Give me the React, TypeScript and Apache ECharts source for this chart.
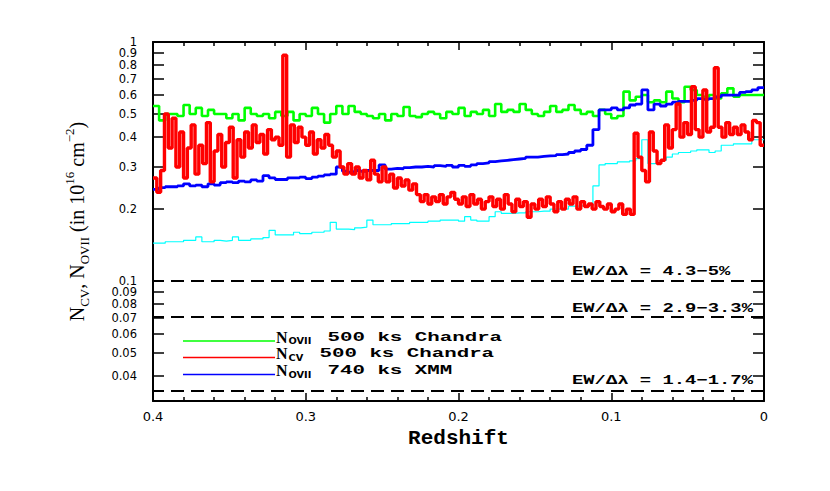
import React, { useEffect, useRef } from "react";
import * as echarts from "echarts";

// ---------- data ----------
const Z_START = 0.4;
const Z_END = 0;

// N_OVII, 500 ks Chandra (green), bins of 0.004 in redshift from z=0.4 down to 0
const greenBinWidth = 0.004;
const greenNOVII500 = [
  0.54, 0.47, 0.5, 0.5, 0.49, 0.545, 0.5, 0.53, 0.49, 0.52,
  0.5, 0.5, 0.48, 0.5, 0.47, 0.53, 0.5, 0.49, 0.5, 0.48,
  0.51, 0.49, 0.51, 0.47, 0.5, 0.49, 0.53, 0.5, 0.46, 0.5,
  0.54, 0.5, 0.54, 0.51, 0.5, 0.49, 0.48, 0.5, 0.47, 0.5,
  0.49, 0.535, 0.49, 0.485, 0.5, 0.51, 0.5, 0.48, 0.51, 0.5,
  0.53, 0.49, 0.51, 0.5, 0.52, 0.49, 0.55, 0.51, 0.52, 0.51,
  0.55, 0.52, 0.5, 0.49, 0.51, 0.54, 0.51, 0.52, 0.545, 0.52,
  0.5, 0.51, 0.49, 0.52, 0.5, 0.48, 0.49, 0.62, 0.57, 0.59,
  0.6, 0.56, 0.57, 0.56, 0.62, 0.58, 0.56, 0.65, 0.63, 0.6,
  0.59, 0.6, 0.58, 0.61, 0.64, 0.59, 0.6, 0.6, 0.6, 0.6,
];

// N_CV, 500 ks Chandra (red), bins of 0.0025
const redBinWidth = 0.0025;
const redNCV500 = [
  0.27, 0.235, 0.29, 0.5, 0.36, 0.48, 0.3, 0.42, 0.27, 0.36,
  0.45, 0.28, 0.37, 0.31, 0.46, 0.26, 0.35, 0.41, 0.3, 0.38,
  0.44, 0.27, 0.39, 0.33, 0.42, 0.36, 0.45, 0.38, 0.41, 0.34,
  0.43, 0.39, 0.4, 0.37, 0.88, 0.33, 0.45, 0.38, 0.44, 0.4,
  0.37, 0.42, 0.34, 0.39, 0.36, 0.41, 0.37, 0.33, 0.35, 0.3,
  0.28, 0.31, 0.28, 0.3, 0.27, 0.29, 0.265, 0.32, 0.28, 0.26,
  0.3, 0.26, 0.28, 0.245, 0.27, 0.25, 0.265, 0.24, 0.255, 0.23,
  0.215, 0.23, 0.21, 0.225, 0.215, 0.23, 0.21, 0.225, 0.235, 0.22,
  0.21, 0.225, 0.205, 0.23, 0.21, 0.22, 0.2, 0.215, 0.225, 0.205,
  0.22, 0.2, 0.23, 0.21, 0.195, 0.22, 0.205, 0.215, 0.185, 0.21,
  0.2, 0.22, 0.205, 0.225, 0.21, 0.195, 0.215, 0.2, 0.22, 0.21,
  0.225, 0.2, 0.215, 0.205, 0.21, 0.2, 0.215, 0.205, 0.2, 0.21,
  0.195, 0.2, 0.21, 0.19, 0.2, 0.19, 0.415, 0.33, 0.29, 0.26,
  0.42, 0.35, 0.31, 0.32, 0.45, 0.36, 0.43, 0.55, 0.4, 0.46,
  0.41, 0.65, 0.43, 0.4, 0.63, 0.42, 0.44, 0.78, 0.44, 0.4,
  0.46, 0.41, 0.44, 0.41, 0.45, 0.42, 0.39, 0.47, 0.46, 0.37,
];

// N_OVII, 740 ks XMM (blue), bins of 0.004
const blueBinWidth = 0.004;
const blueNOVII740 = [
  0.242, 0.246, 0.248, 0.248, 0.25, 0.255, 0.25, 0.252, 0.248, 0.255,
  0.252, 0.258, 0.26, 0.258, 0.262, 0.26, 0.265, 0.262, 0.276, 0.27,
  0.266, 0.266, 0.27, 0.27, 0.272, 0.268, 0.272, 0.275, 0.278, 0.28,
  0.3, 0.288, 0.285, 0.29, 0.288, 0.29, 0.29, 0.306, 0.294, 0.296,
  0.295, 0.298, 0.3, 0.3, 0.302, 0.3, 0.304, 0.302, 0.305, 0.3,
  0.305, 0.302, 0.306, 0.31, 0.312, 0.316, 0.318, 0.32, 0.322, 0.324,
  0.326, 0.33, 0.33, 0.332, 0.334, 0.335, 0.338, 0.34, 0.345, 0.35,
  0.355, 0.37, 0.43, 0.52, 0.52, 0.53, 0.52, 0.53, 0.545, 0.55,
  0.63, 0.52, 0.55, 0.54, 0.55, 0.56, 0.565, 0.565, 0.57, 0.58,
  0.575, 0.58, 0.59, 0.6, 0.6, 0.6, 0.615, 0.62, 0.63, 0.645,
];

// thin cyan curve (no legend entry), bins of 0.004
const cyanBinWidth = 0.004;
const cyanCurve = [
  0.144, 0.144, 0.146, 0.146, 0.146, 0.148, 0.148, 0.153, 0.146, 0.146,
  0.148, 0.147, 0.148, 0.153, 0.148, 0.148, 0.15, 0.15, 0.152, 0.163,
  0.156, 0.156, 0.156, 0.16, 0.158, 0.158, 0.16, 0.16, 0.162, 0.176,
  0.165, 0.165, 0.164, 0.167, 0.168, 0.18, 0.172, 0.172, 0.172, 0.174,
  0.174, 0.174, 0.176, 0.176, 0.176, 0.178, 0.178, 0.18, 0.18, 0.18,
  0.178, 0.186, 0.18, 0.178, 0.178, 0.186, 0.195, 0.192, 0.192, 0.193,
  0.193, 0.195, 0.195, 0.196, 0.196, 0.2, 0.2, 0.2, 0.206, 0.206,
  0.207, 0.207, 0.25, 0.306, 0.31, 0.31, 0.315, 0.315, 0.318, 0.325,
  0.39, 0.31, 0.31, 0.32, 0.33, 0.34, 0.345, 0.345, 0.35, 0.354,
  0.354, 0.345, 0.35, 0.37, 0.37, 0.375, 0.375, 0.375, 0.39, 0.39,
];

// dashed detection thresholds
const thresholdValues = [0.1, 0.07, 0.035];
const thresholdLabels = ["EW/Δλ = 4.3−5%", "EW/Δλ = 2.9−3.3%", "EW/Δλ = 1.4−1.7%"];

// legend entries
const legendColors = ["#00ff00", "#ff0000", "#0000ff"];
const legendMain = ["N", "N", "N"];
const legendSub = ["OVII", "CV", "OVII"];
const legendText = ["500 ks Chandra", "500 ks Chandra", "740 ks XMM"];

// axis ticks (labels split into two interleaved sets so none are auto-hidden)
const yTickValues = [0.04, 0.05, 0.06, 0.07, 0.08, 0.09, 0.1, 0.2, 0.3, 0.4, 0.5, 0.6, 0.7, 0.8, 0.9, 1];
const yLabelsA = [0.04, 0.06, 0.08, 0.1, 0.3, 0.5, 0.7, 0.9];
const yLabelsB = [0.05, 0.07, 0.09, 0.2, 0.4, 0.6, 0.8, 1];
const Y_MIN = 0.0315;
const Y_MAX = 1;
const X_INTERVAL = 0.1;

const lg = (v: number) => Math.log10(v);

function stepPoints(values: number[], width: number): number[][] {
  const pts = values.map((v, i) => [Z_START - i * width, lg(v)]);
  pts.push([Z_END, lg(values[values.length - 1])]);
  return pts;
}

export default function App() {
  const ref = useRef<HTMLDivElement>(null);

  useEffect(() => {
    if (!ref.current) return;
    const chart = echarts.init(ref.current, null, { renderer: "svg" });

    const yTicksL = yTickValues.map(lg);
    const fmtY = (v: number) => String(parseFloat(Math.pow(10, v).toPrecision(2)));
    const axisLineStyle = { color: "#000", width: 2 };

    const xAxisBase: any = {
      type: "value",
      min: Z_END,
      max: Z_START,
      interval: X_INTERVAL,
      inverse: true,
      splitLine: { show: false },
      minorSplitLine: { show: false },
      axisLine: { show: true, onZero: false, lineStyle: axisLineStyle },
      axisTick: { show: true, inside: true, length: 8, lineStyle: { color: "#000", width: 1.5 } },
      minorTick: { show: true, splitNumber: 5, length: 4, lineStyle: { color: "#000", width: 1.5 } },
    };
    const yAxisBase: any = {
      type: "value",
      min: lg(Y_MIN),
      max: lg(Y_MAX),
      splitLine: { show: false },
      axisLine: { show: true, onZero: false, lineStyle: axisLineStyle },
      axisTick: {
        show: true,
        inside: true,
        length: 11,
        customValues: yTicksL,
        lineStyle: { color: "#000", width: 1.5 },
      },
    };
    const yLabelStyle = (vals: number[]) => ({
      show: true,
      margin: 16,
      hideOverlap: false,
      showMinLabel: true,
      showMaxLabel: true,
      fontFamily: "DejaVu Sans",
      fontSize: 11.5,
      lineHeight: 10,
      color: "#000",
      customValues: vals.map(lg),
      formatter: fmtY,
    });

    const common = { type: "line", step: "end", symbol: "none", showSymbol: false, silent: true };

    const option: any = {
      animation: false,
      backgroundColor: "#fff",
      grid: { left: 153, right: 66, top: 42, bottom: 90, containLabel: false, outerBoundsMode: "none" },
      xAxis: [
        {
          ...xAxisBase,
          position: "bottom",
          name: "Redshift",
          nameLocation: "middle",
          nameGap: 22,
          nameTextStyle: { fontFamily: "Liberation Mono", fontWeight: "bold", fontSize: 21, color: "#000" },
          axisLabel: {
            show: true,
            margin: 9,
            fontFamily: "DejaVu Sans",
            fontSize: 13,
            color: "#000",
            formatter: (v: number) => String(Math.round(v * 10) / 10),
          },
        },
        { ...xAxisBase, position: "top", axisLabel: { show: false } },
      ],
      yAxis: [
        {
          ...yAxisBase,
          position: "left",
          offset: 0,
          name: "{m|N}{s|CV}{m|, N}{s|OVII}{m| (in 10}{p|16}{m| cm}{p|−2}{m|)}",
          nameLocation: "middle",
          nameRotate: 90,
          nameGap: 62,
          nameTextStyle: {
            rich: {
              m: { fontFamily: "Liberation Serif", fontSize: 20, lineHeight: 28, color: "#000", verticalAlign: "middle" },
              s: { fontFamily: "Liberation Serif", fontSize: 13, lineHeight: 13, color: "#000", verticalAlign: "bottom" },
              p: { fontFamily: "Liberation Serif", fontSize: 13, lineHeight: 13, color: "#000", verticalAlign: "top" },
            },
          },
          axisLabel: yLabelStyle(yLabelsA),
        },
        { ...yAxisBase, position: "right", offset: 0, axisLabel: { show: false } },
        {
          ...yAxisBase,
          position: "left",
          offset: 0,
          axisLine: { show: false },
          axisTick: { show: false },
          axisLabel: yLabelStyle(yLabelsB),
        },
      ],
      series: [
        {
          ...common,
          name: "cyan curve",
          data: stepPoints(cyanCurve, cyanBinWidth),
          lineStyle: { color: "#00ffff", width: 1.2 },
          itemStyle: { color: "#00ffff" },
          z: 2,
          markLine: {
            silent: true,
            symbol: "none",
            label: { show: false },
            lineStyle: { color: "#000", width: 2, type: [13, 7] },
            data: thresholdValues.map((v) => ({ yAxis: lg(v) })),
          },
        },
        {
          ...common,
          name: "N_OVII 500 ks Chandra",
          data: stepPoints(greenNOVII500, greenBinWidth),
          lineStyle: { color: "#00ff00", width: 2.6 },
          itemStyle: { color: "#00ff00" },
          z: 3,
        },
        {
          ...common,
          name: "N_OVII 740 ks XMM",
          data: stepPoints(blueNOVII740, blueBinWidth),
          lineStyle: { color: "#0000ff", width: 2.8 },
          itemStyle: { color: "#0000ff" },
          z: 4,
        },
        {
          ...common,
          name: "N_CV 500 ks Chandra",
          data: stepPoints(redNCV500, redBinWidth),
          lineStyle: { color: "#ff0000", width: 3.4 },
          itemStyle: { color: "#ff0000" },
          z: 5,
        },
      ],
    };

    chart.setOption(option);

    // annotations: legend block and threshold labels
    const graphics: any[] = [];
    const legendLineY = [341, 357.5, 374.5];
    legendColors.forEach((c, i) => {
      const y = legendLineY[i];
      graphics.push({
        type: "line",
        silent: true,
        shape: { x1: 183, y1: y, x2: 275, y2: y },
        style: { stroke: c, lineWidth: 1.6 },
      });
      graphics.push({
        type: "text",
        silent: true,
        x: 276,
        y: y - 4,
        style: {
          text: legendMain[i],
          font: 'bold 16px "Liberation Serif"',
          fill: "#000",
          align: "left",
          verticalAlign: "middle",
          textAlign: "left",
          textVerticalAlign: "middle",
        },
      });
      const subW = legendSub[i].length === 4 ? 24 : 16;
      graphics.push({
        type: "text",
        silent: true,
        x: 288.5,
        y: y + 0.5,
        scaleX: 1.15,
        style: {
          text: legendSub[i],
          font: 'bold 8.5px "DejaVu Sans"',
          fill: "#000",
          align: "left",
          verticalAlign: "middle",
          textAlign: "left",
          textVerticalAlign: "middle",
        },
      });
      graphics.push({
        type: "text",
        silent: true,
        x: 288.5 + subW + 15,
        y: y - 3.5,
        scaleX: 1.6,
        style: {
          text: legendText[i],
          font: 'bold 13px "Liberation Mono"',
          fill: "#000",
          align: "left",
          verticalAlign: "middle",
          textAlign: "left",
          textVerticalAlign: "middle",
        },
      });
    });

    thresholdValues.forEach((v, i) => {
      const py = chart.convertToPixel({ yAxisIndex: 0 }, lg(v)) as number;
      graphics.push({
        type: "text",
        silent: true,
        x: 572,
        y: py - 9,
        scaleX: 1.45,
        style: {
          text: thresholdLabels[i],
          font: 'bold 13px "Liberation Mono"',
          fill: "#000",
          align: "left",
          verticalAlign: "middle",
          textAlign: "left",
          textVerticalAlign: "middle",
        },
      });
    });

    chart.setOption({ graphic: graphics });

    return () => {
      chart.dispose();
    };
  }, []);

  return (
    <div
      ref={ref}
      style={{ position: "fixed", left: 0, top: 0, width: 830, height: 491, background: "#fff" }}
    />
  );
}
